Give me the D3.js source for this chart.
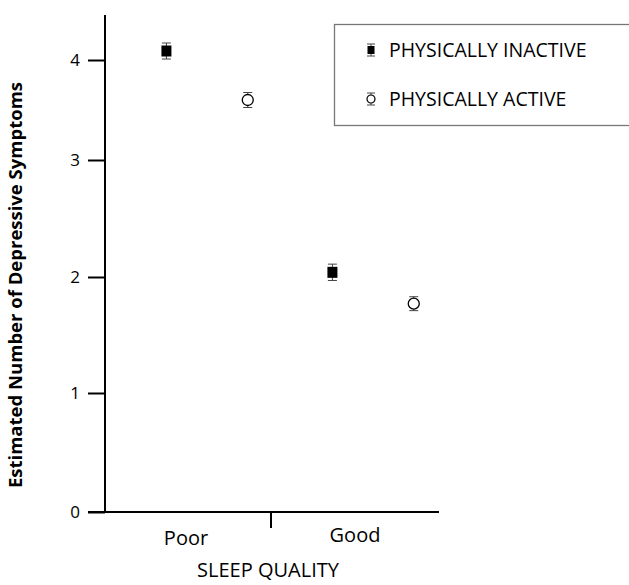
<!DOCTYPE html>
<html>
<head>
<meta charset="utf-8">
<script src="https://cdn.jsdelivr.net/npm/d3@7"></script>
<style>
  html, body { margin: 0; padding: 0; background: #fff; }
  svg { display: block; }
  text { font-family: "Open Sans", sans-serif; fill: #000; }
</style>
</head>
<body>
<svg id="chart" width="629" height="585"></svg>
<script>
// ---- data ----
const categories = ["Poor", "Good"];
const series = ["PHYSICALLY INACTIVE", "PHYSICALLY ACTIVE"];
const inactiveMeans = [4.09, 2.04];
const inactiveErr = [0.08, 0.07];
const activeMeans = [3.60, 1.77];
const activeErr = [0.075, 0.06];
const yTicks = [0, 1, 2, 3, 4];
const yTitle = "Estimated Number of Depressive Symptoms";
const xTitle = "SLEEP QUALITY";

const svg = d3.select("#chart");

// y scale (reference axis has uneven tick spacing, reproduced piecewise)
const y = d3.scaleLinear()
  .domain([0, 1, 2, 3, 4, 4.45])
  .range([512, 393, 277, 160, 60, 15]);

const x = d3.scaleBand().domain(categories).range([105, 437]);
const bw = x.bandwidth();
const xs = d3.scalePoint().domain(series).range([0.37 * bw, 0.86 * bw]);

const points = [];
categories.forEach((c, i) => {
  points.push({cat: c, s: series[0], v: inactiveMeans[i], e: inactiveErr[i]});
  points.push({cat: c, s: series[1], v: activeMeans[i], e: activeErr[i]});
});

// y axis
const yAxis = svg.append("g")
  .attr("transform", "translate(105,0)")
  .call(d3.axisLeft(y).tickValues(yTicks).tickSize(17).tickPadding(8).tickFormat(d3.format("d")));
yAxis.select(".domain").remove();
yAxis.selectAll(".tick line").attr("stroke", "#000").attr("stroke-width", 2);
yAxis.selectAll(".tick text").style("font-size", "17px").attr("fill", "#000");

svg.append("line")
  .attr("x1", 105).attr("x2", 105)
  .attr("y1", y(4.45)).attr("y2", y(0))
  .attr("stroke", "#000").attr("stroke-width", 2);

// x axis
svg.append("line")
  .attr("x1", 88).attr("x2", 439)
  .attr("y1", y(0)).attr("y2", y(0))
  .attr("stroke", "#000").attr("stroke-width", 2);

svg.append("line")
  .attr("x1", x("Good")).attr("x2", x("Good"))
  .attr("y1", y(0)).attr("y2", y(0) + 16)
  .attr("stroke", "#000").attr("stroke-width", 2);

svg.selectAll(".xlab").data(categories).join("text")
  .attr("class", "xlab")
  .attr("x", (d, i) => x(d) + bw / 2 + (i === 0 ? -2 : 1))
  .attr("y", (d, i) => i === 0 ? 545 : 542)
  .attr("text-anchor", "middle")
  .style("font-size", "20px")
  .text(d => d);

svg.append("text")
  .attr("x", 268).attr("y", 577)
  .attr("text-anchor", "middle")
  .style("font-size", "20px")
  .text(xTitle);

svg.append("text")
  .attr("transform", "translate(22,285) rotate(-90)")
  .attr("text-anchor", "middle")
  .style("font-size", "18.5px")
  .style("font-weight", "bold")
  .text(yTitle);

// marks
const g = svg.append("g");
points.forEach(p => {
  const cx = x(p.cat) + xs(p.s);
  const cy = y(p.v);
  const top = y(p.v + p.e), bot = y(p.v - p.e);
  g.append("line").attr("x1", cx).attr("x2", cx).attr("y1", top).attr("y2", bot)
    .attr("stroke", "#444").attr("stroke-width", 1);
  [top, bot].forEach(yy => g.append("line")
    .attr("x1", cx - 4.5).attr("x2", cx + 4.5).attr("y1", yy).attr("y2", yy)
    .attr("stroke", "#444").attr("stroke-width", 1));
  if (p.s === series[0]) {
    g.append("rect").attr("x", cx - 5).attr("y", cy - 5.5).attr("width", 10).attr("height", 11)
      .attr("fill", "#000");
  } else {
    g.append("circle").attr("cx", cx).attr("cy", cy).attr("r", 5.5)
      .attr("fill", "#fff").attr("stroke", "#000").attr("stroke-width", 1.3);
  }
});

// legend
svg.append("rect")
  .attr("x", 334.5).attr("y", 24.5).attr("width", 310).attr("height", 101)
  .attr("fill", "none").attr("stroke", "#777").attr("stroke-width", 1.3);

const leg = svg.selectAll(".leg").data(series).join("g")
  .attr("class", "leg")
  .attr("transform", (d, i) => `translate(371,${50 + i * 49})`);
leg.append("line").attr("x1", 0).attr("x2", 0).attr("y1", -6).attr("y2", 6)
  .attr("stroke", "#444").attr("stroke-width", 1);
leg.each(function(d, i) {
  const s = d3.select(this);
  [-6, 6].forEach(yy => s.append("line").attr("x1", -4).attr("x2", 4).attr("y1", yy).attr("y2", yy)
    .attr("stroke", "#444").attr("stroke-width", 1));
  if (i === 0) {
    s.append("rect").attr("x", -3.5).attr("y", -4).attr("width", 7).attr("height", 8).attr("fill", "#000");
  } else {
    s.append("circle").attr("r", 4).attr("fill", "#fff").attr("stroke", "#000").attr("stroke-width", 1.2);
  }
});
leg.append("text")
  .attr("x", 18).attr("y", 7)
  .style("font-size", "19.5px")
  .text(d => d);
</script>
</body>
</html>
